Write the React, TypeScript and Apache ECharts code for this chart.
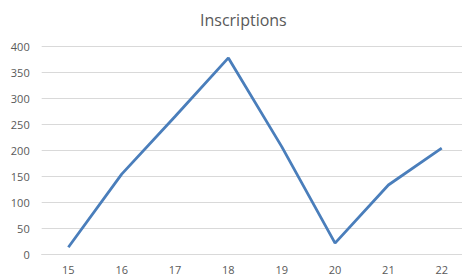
import React, { useEffect, useRef } from "react";
import * as echarts from "echarts";

const title = "Inscriptions";
const categories = ["15", "16", "17", "18", "19", "20", "21", "22"];
const values = [13, 154, 265, 378, 207, 21, 133, 204];
const yMin = 0;
const yMax = 400;
const yStep = 50;

export default function App() {
  const ref = useRef<HTMLDivElement>(null);
  useEffect(() => {
    if (!ref.current) return;
    const chart = echarts.init(ref.current, null, { renderer: "svg" });
    const font = "'Open Sans', 'Noto Sans', sans-serif";
    chart.setOption({
      animation: false,
      backgroundColor: "#ffffff",
      title: {
        text: title,
        left: 195,
        top: 7,
        textStyle: { color: "#595959", fontSize: 16, fontWeight: "normal", fontFamily: font },
      },
      grid: {
        left: 41.7,
        top: 46.5,
        width: 426.7,
        bottom: 23,
        containLabel: false,
        outerBoundsMode: "none",
      },
      xAxis: {
        type: "category",
        data: categories,
        boundaryGap: true,
        axisLine: { show: true, lineStyle: { color: "#d9d9d9", width: 1 } },
        axisTick: { show: false },
        axisLabel: { color: "#595959", fontSize: 11, fontFamily: font, margin: 10 },
      },
      yAxis: {
        type: "value",
        min: yMin,
        max: yMax,
        interval: yStep,
        axisLine: { show: false },
        axisTick: { show: false },
        splitLine: { lineStyle: { color: "#d9d9d9", width: 1 } },
        axisLabel: { color: "#595959", fontSize: 11, fontFamily: font, margin: 12 },
      },
      series: [
        {
          type: "line",
          data: values,
          symbol: "none",
          lineStyle: { color: "#4a7ebb", width: 2.8 },
        },
      ],
    });
    return () => chart.dispose();
  }, []);
  return (
    <div
      ref={ref}
      style={{ position: "fixed", left: 0, top: 0, width: 462, height: 277, background: "#fff" }}
    />
  );
}
